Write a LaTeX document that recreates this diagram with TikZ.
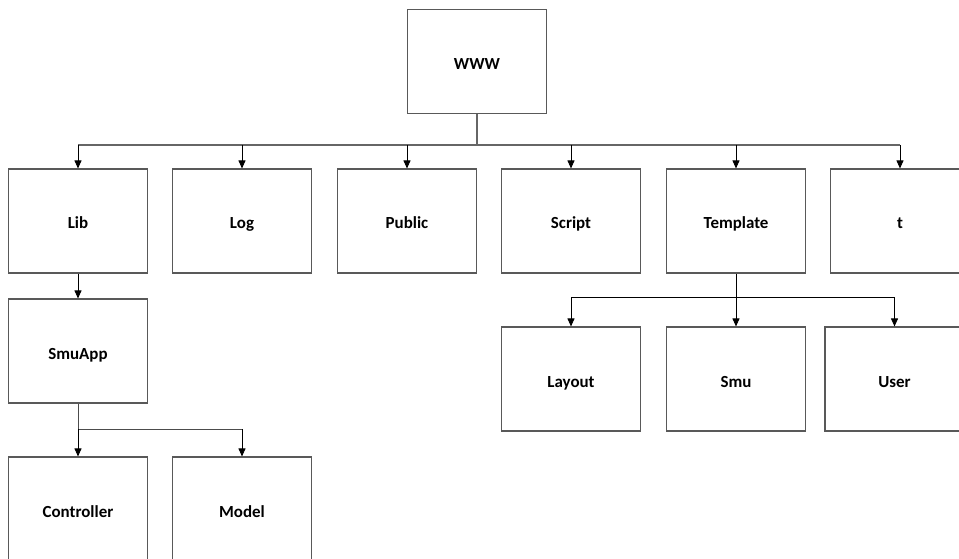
\documentclass[tikz,border=0pt]{standalone}
\usepackage{fontspec}
\setmainfont{Carlito}
\usetikzlibrary{arrows.meta}
\begin{document}
\begin{tikzpicture}[x=1bp,y=-1bp,
  box/.style={draw=black!65,line width=1.1bp,minimum width=139bp,minimum height=104bp,inner sep=0pt,
    text height=16bp,text depth=0bp,
    font=\fontsize{17}{20}\selectfont\bfseries},
  bus/.style={draw=black!60,line width=1.3bp},
  arr/.style={draw=black,line width=0.9bp,-{Triangle[length=8bp,width=7bp]}}]
\useasboundingbox (0,0) rectangle (959,559);
\node[box] (www) at (477,61.5) {WWW};
\node[box] (lib) at (78,221) {Lib};
\node[box] (log) at (242,221) {Log};
\node[box] (public) at (407,221) {Public};
\node[box] (script) at (571,221) {Script};
\node[box] (template) at (736,221) {Template};
\node[box] (t) at (900,221) {t};
\node[box] (smuapp) at (78,351) {SmuApp};
\node[box] (controller) at (78,509) {Controller};
\node[box] (model) at (242,509) {Model};
\node[box] (layout) at (571,379) {Layout};
\node[box] (smu) at (736,379) {Smu};
\node[box] (user) at (894.5,379) {User};
\coordinate (b1) at (477,145);
\draw[bus] (www.south) -- (b1);
\draw[bus] (lib.north |- b1) -- (t.north |- b1);
\foreach \n in {lib,log,public,script,template,t}
  \draw[arr] (\n.north |- b1) -- (\n.north);
\draw[arr] (lib.south) -- (smuapp.north);
\coordinate (b2) at (736,298);
\draw[draw=black,line width=1bp] (template.south) -- (b2);
\draw[draw=black,line width=1bp] (layout.north |- b2) -- (user.north |- b2);
\foreach \n in {layout,smu,user}
  \draw[arr] (\n.north |- b2) -- (\n.north);
\coordinate (b3) at (78,429);
\draw[draw=black!70,line width=1bp] (smuapp.south) -- (b3) -- (model.north |- b3);
\foreach \n in {controller,model}
  \draw[arr] (\n.north |- b3) -- (\n.north);
\end{tikzpicture}
\end{document}
